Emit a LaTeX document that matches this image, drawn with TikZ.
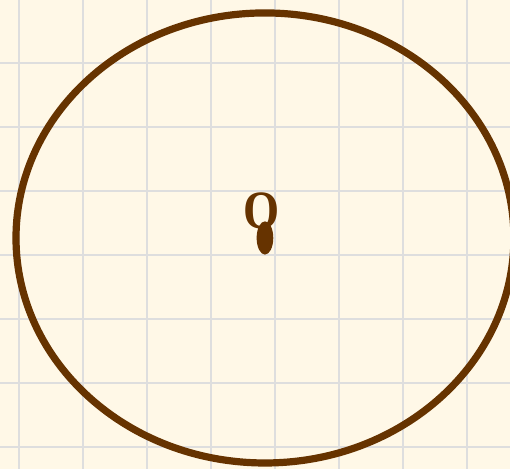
\documentclass[tikz,border=0pt]{standalone}
\usepackage{fontspec}
\newfontfamily\labelfont{Liberation Serif}
\usepackage{tikz}
\usetikzlibrary{shapes,positioning}
\usepackage{xcolor}
\definecolor{paper}{HTML}{FFF8E7}
\definecolor{gridgray}{HTML}{DEDEDE}
\definecolor{umber}{HTML}{663300}

\begin{document}
\begin{tikzpicture}[
  gridline/.style={draw=gridgray, line width=1.3pt},
  rim/.style={draw=umber, line width=3.2pt},
  centerdot/.style={ellipse, fill=umber, inner sep=0pt, minimum width=0.26cm, minimum height=0.52cm},
  ptlabel/.style={text=umber, font=\labelfont\fontsize{24}{28}\selectfont\bfseries, inner sep=0pt, xscale=0.86}
]
  \useasboundingbox (0,0) rectangle (7.96875,7.328125);
  \clip (0,0) rectangle (7.96875,7.328125);
  \fill[paper] (0,0) rectangle (7.96875,7.328125);
  \draw[gridline, step=1, shift={(0.297,0.344)}] (-1,-1) grid (8,8);

  \coordinate (c) at (4.14,3.61);
  \draw[rim] (c) ellipse [x radius=3.89cm, y radius=3.516cm];
  \node[ptlabel] (lbl) at ([xshift=-0.05cm, yshift=0.42cm]c) {O};
  \node[centerdot] (O) at (c) {};
\end{tikzpicture}
\end{document}
